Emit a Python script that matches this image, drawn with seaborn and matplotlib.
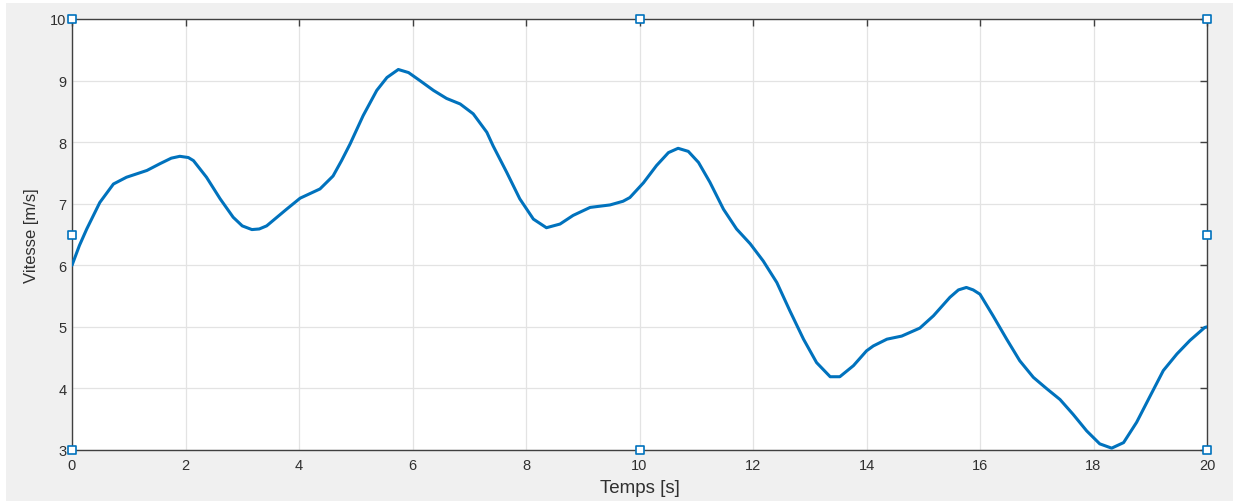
import matplotlib
matplotlib.use("Agg")
import matplotlib.pyplot as plt
import seaborn as sns
import pandas as pd
from matplotlib.patches import Rectangle

# --- data ---
temps = [0.0, 0.13, 0.26, 0.49, 0.73, 0.96, 1.32, 1.55, 1.75, 1.90, 2.05, 2.14,
         2.37, 2.61, 2.84, 3.00, 3.17, 3.30, 3.43, 3.78, 4.02, 4.37, 4.60, 4.75,
         4.90, 5.13, 5.37, 5.55, 5.75, 5.93, 6.13, 6.37, 6.60, 6.84, 7.07, 7.31,
         7.42, 7.66, 7.89, 8.13, 8.36, 8.60, 8.83, 9.13, 9.48, 9.71, 9.83, 10.07,
         10.30, 10.51, 10.68, 10.86, 11.04, 11.24, 11.48, 11.71, 11.95, 12.18,
         12.42, 12.65, 12.89, 13.12, 13.36, 13.53, 13.77, 14.00, 14.12, 14.36,
         14.62, 14.94, 15.18, 15.47, 15.62, 15.76, 15.88, 16.00, 16.23, 16.47,
         16.70, 16.94, 17.17, 17.41, 17.64, 17.88, 18.11, 18.32, 18.53, 18.76,
         19.00, 19.23, 19.47, 19.70, 19.96, 20.0]
vitesse = [6.00, 6.32, 6.59, 7.02, 7.32, 7.43, 7.54, 7.65, 7.74, 7.77, 7.75, 7.70,
           7.43, 7.08, 6.78, 6.64, 6.58, 6.59, 6.64, 6.91, 7.09, 7.24, 7.45, 7.70,
           7.97, 8.43, 8.84, 9.05, 9.18, 9.13, 9.00, 8.84, 8.71, 8.62, 8.46, 8.16,
           7.94, 7.51, 7.08, 6.75, 6.61, 6.67, 6.81, 6.94, 6.98, 7.04, 7.10, 7.34,
           7.62, 7.83, 7.90, 7.85, 7.67, 7.35, 6.91, 6.59, 6.35, 6.07,
           5.72, 5.26, 4.80, 4.42, 4.19, 4.19, 4.37, 4.61, 4.69, 4.80,
           4.85, 4.98, 5.18, 5.48, 5.60, 5.64, 5.60, 5.53, 5.18, 4.80,
           4.45, 4.18, 4.00, 3.82, 3.58, 3.31, 3.10, 3.03, 3.12, 3.45,
           3.88, 4.29, 4.56, 4.78, 4.99, 5.00]

handle_t = [0, 10, 20, 0, 20, 0, 10, 20]
handle_v = [10, 10, 10, 6.5, 6.5, 3, 3, 3]

x_ticks = [0, 2, 4, 6, 8, 10, 12, 14, 16, 18, 20]
y_ticks = [3, 4, 5, 6, 7, 8, 9, 10]
x_label = "Temps [s]"
y_label = "Vitesse [m/s]"

df = pd.DataFrame({"Temps": temps, "Vitesse": vitesse})
dh = pd.DataFrame({"Temps": handle_t, "Vitesse": handle_v})

sns.set_style("white")
plt.rcParams["font.family"] = ["Liberation Sans", "DejaVu Sans"]

blue = "#0072BD"
axc = "#404040"
txtc = "#303030"

fig = plt.figure(figsize=(12.33, 5.02), dpi=100, facecolor="white")
fig.patches.append(Rectangle((6 / 1233, 0), 1, 1 - 4 / 502, transform=fig.transFigure,
                             facecolor="#f0f0f0", edgecolor="none", zorder=-10))
ax = fig.add_axes([72 / 1233, 1 - 451 / 502, (1207 - 72) / 1233, (451 - 20) / 502])
ax.set_facecolor("white")

sns.lineplot(data=df, x="Temps", y="Vitesse", ax=ax, color=blue, linewidth=2.2,
             sort=False, estimator=None, zorder=3,
             solid_joinstyle="round", solid_capstyle="round")
sns.scatterplot(data=dh, x="Temps", y="Vitesse", ax=ax, marker="s", s=28,
                facecolor="white", edgecolor=blue, linewidth=1.2, zorder=5,
                clip_on=False)

ax.set_xlim(0, 20)
ax.set_ylim(3, 10)
ax.set_xticks(x_ticks)
ax.set_yticks(y_ticks)
ax.grid(True, color="#e3e3e3", linewidth=0.9)
ax.set_axisbelow(True)
for s in ax.spines.values():
    s.set_color(axc)
    s.set_linewidth(1.0)
ax.tick_params(direction="in", length=5, width=1, color=axc, labelcolor=txtc,
               labelsize=10.5, top=True, right=True)
ax.tick_params(axis="x", pad=6)
ax.tick_params(axis="y", pad=4)
ax.set_xlabel(x_label, fontsize=13.5, color=txtc, labelpad=5)
ax.set_ylabel(y_label, fontsize=12, color=txtc, labelpad=8)

fig.savefig("out.png", dpi=100, facecolor=fig.get_facecolor())
